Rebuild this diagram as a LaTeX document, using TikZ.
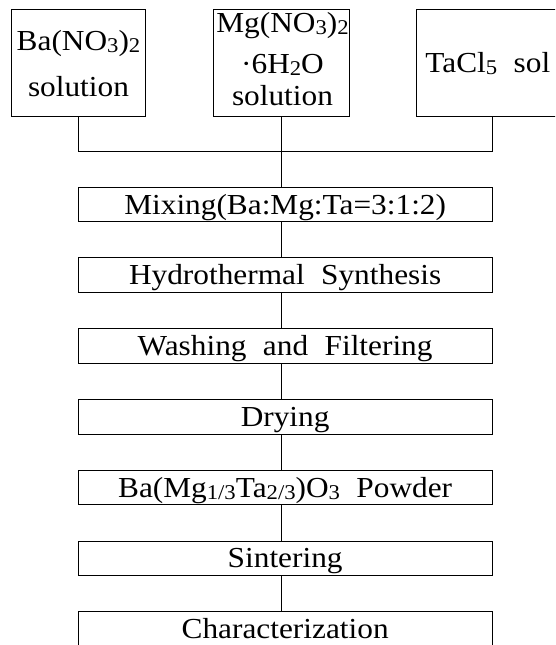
\documentclass[tikz,border=0pt]{standalone}
\usepackage{fontspec}
\setmainfont{Liberation Serif}[FakeStretch=1.08, WordSpace=2.1]
\newcommand\lsub[1]{\raisebox{-2pt}{\fontsize{21}{21}\selectfont #1}}
\begin{document}
\begin{tikzpicture}[x=1pt,y=-1pt,
  line width=0.9pt,
  font=\fontsize{29}{32}\selectfont,
  pbox/.style={draw, rectangle, minimum width=414.3pt, minimum height=34.7pt,
    inner sep=0pt, text height=19pt, text depth=0pt},
  srcbox/.style={draw, rectangle, minimum height=107pt, inner sep=0pt},
  lbl/.style={anchor=base, inner sep=0pt}]
\useasboundingbox (0,0) rectangle (555,645);
\clip (0,0) rectangle (555,645);
% source boxes
\node[srcbox, minimum width=134.7pt] (ba) at (78.35,62.5) {};
\node[srcbox, minimum width=135.7pt] (mg) at (281.5,62.5) {};
\node[srcbox, minimum width=151.2pt] (ta) at (492.3,62.5) {};
\node[lbl] (bat1) at (78.5,50) {Ba(NO\lsub{3})\lsub{2}};
\node[lbl] (bat2) at (78.5,96.7) {solution};
\node[lbl] (mgt1) at (282.5,32) {Mg(NO\lsub{3})\lsub{2}};
\node[lbl] (mgt2) at (282.5,73.3) {·6H\lsub{2}O};
\node[lbl] (mgt3) at (282.5,105.5) {solution};
\node[lbl, anchor=base west] (tat) at (425,72) {TaCl\lsub{5} sol};
% process boxes
\node[pbox] (mix) at (285.15,204.5) {Mixing(Ba:Mg:Ta=3:1:2)};
\node[pbox] (hyd) at (285.15,275.2) {Hydrothermal Synthesis};
\node[pbox] (was) at (285.15,345.8) {Washing and Filtering};
\node[pbox] (dry) at (285.15,416.7) {Drying};
\node[pbox] (bmt) at (285.15,487.5) {Ba(Mg\lsub{1/3}Ta\lsub{2/3})O\lsub{3} Powder};
\node[pbox] (sin) at (285.15,558.3) {Sintering};
\node[pbox] (cha) at (285.15,629.2) {Characterization};
% connectors
\coordinate (jl) at (ba.south |- 0,151);
\coordinate (jr) at (ta.south |- 0,151);
\draw (ba.south) -- (jl) -- (jr) -- (ta.south);
\draw (mg.south) -- (mg.south |- mix.north);
\foreach \a/\b in {mix/hyd, hyd/was, was/dry, dry/bmt, bmt/sin, sin/cha}
  \draw (mg.south |- \a.south) -- (mg.south |- \b.north);
\end{tikzpicture}
\end{document}
